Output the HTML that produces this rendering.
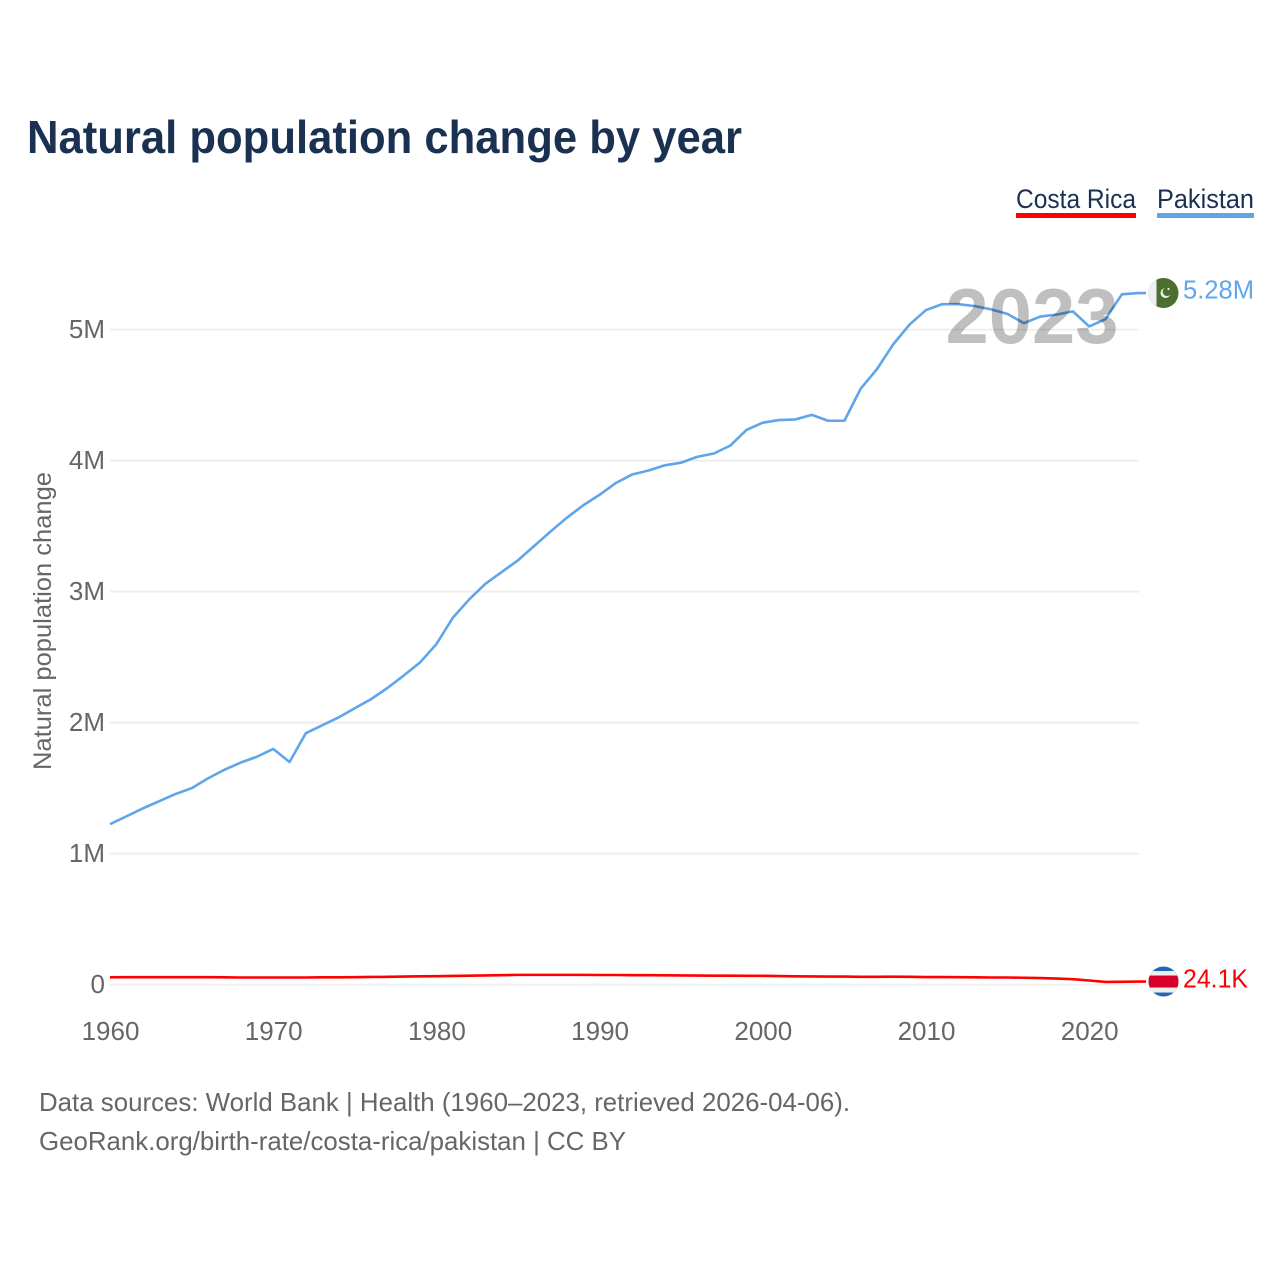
<!DOCTYPE html>
<html lang="en">
<head>
<meta charset="utf-8">
<title>Natural population change by year</title>
<style>
html,body{margin:0;padding:0;background:#fff;width:1280px;height:1280px;overflow:hidden}
svg{display:block}
text{font-family:"Liberation Sans",sans-serif}
</style>
</head>
<body>
<svg id="chart" width="1280" height="1280" viewBox="0 0 1280 1280" xmlns="http://www.w3.org/2000/svg">
  <defs>
    <clipPath id="flag-clip"><circle cx="0" cy="0" r="15"/></clipPath>
  </defs>
  <rect width="1280" height="1280" fill="#fff"/>
  <text x="27" y="153" font-size="46" font-weight="700" fill="#1a3152" textLength="715" lengthAdjust="spacingAndGlyphs">Natural population change by year</text>

  <g>
    <text x="1016" y="208" font-size="27" fill="#1a3152" textLength="120" lengthAdjust="spacingAndGlyphs">Costa Rica</text>
    <rect x="1016" y="213" width="120" height="5" fill="#ff0000"/>
  </g>
  <g>
    <text x="1157" y="208" font-size="27" fill="#1a3152" textLength="97" lengthAdjust="spacingAndGlyphs">Pakistan</text>
    <rect x="1157" y="213" width="97" height="5" fill="#60a5ea"/>
  </g>

  <g id="grid"></g>
  <g id="yticks"></g>
  <g id="xticks"></g>
  <text transform="translate(51,621) rotate(-90)" text-anchor="middle" font-size="25" fill="#666" textLength="298" lengthAdjust="spacingAndGlyphs">Natural population change</text>

  <g id="series"></g>
  <g id="ends"></g>

  <text id="year-watermark" x="1032" y="343" text-anchor="middle" font-size="78" font-weight="700" fill="#000" fill-opacity="0.25" textLength="173" lengthAdjust="spacingAndGlyphs">2023</text>

  <text x="39" y="1111" font-size="26" fill="#666" textLength="811" lengthAdjust="spacingAndGlyphs">Data sources: World Bank | Health (1960–2023, retrieved 2026-04-06).</text>
  <text x="39" y="1150" font-size="26" fill="#666" textLength="587" lengthAdjust="spacingAndGlyphs">GeoRank.org/birth-rate/costa-rica/pakistan | CC BY</text>
</svg>
<script>
const startYear = 1960;
const xTickYears = [1960, 1970, 1980, 1990, 2000, 2010, 2020];
const yTickValues = [0, 1000000, 2000000, 3000000, 4000000, 5000000];
const yTickLabels = ['0', '1M', '2M', '3M', '4M', '5M'];
const pakistanValues = [
  1225000, 1285000, 1345000, 1400000, 1455000, 1500000, 1575000, 1640000, 1695000, 1740000,
  1800000, 1700000, 1920000, 1980000, 2040000, 2110000, 2180000, 2265000, 2360000, 2460000,
  2600000, 2800000, 2940000, 3060000, 3150000, 3240000, 3350000, 3460000, 3565000, 3660000,
  3740000, 3830000, 3895000, 3925000, 3965000, 3985000, 4030000, 4055000, 4115000, 4235000,
  4290000, 4310000, 4315000, 4350000, 4305000, 4305000, 4550000, 4700000, 4890000, 5040000,
  5150000, 5195000, 5195000, 5180000, 5155000, 5120000, 5050000, 5100000, 5115000, 5140000,
  5025000, 5080000, 5270000, 5280000
];
const costaRicaValues = [
  56000, 57000, 57000, 57000, 57000, 57000, 57000, 56000, 55000, 55000,
  55000, 55000, 55000, 56000, 56000, 57000, 59000, 60000, 62000, 64000,
  65000, 67000, 69000, 71000, 73000, 75000, 75000, 75000, 75000, 75000,
  74000, 74000, 73000, 73000, 72000, 71000, 70000, 69000, 69000, 68000,
  68000, 66000, 64000, 63000, 62000, 62000, 60000, 60000, 61000, 60000,
  58000, 58000, 57000, 56000, 55000, 55000, 53000, 51000, 47000, 42000,
  32000, 21000, 22000, 24100
];
const pakistanEndLabel = '5.28M';
const costaRicaEndLabel = '24.1K';

const NS = 'http://www.w3.org/2000/svg';
const plotLeft = 110, yearWidth = 16.32, zeroY = 984.7, pxPerUnit = 131 / 1000000, plotRight = 1139;
function xScale(year) { return plotLeft + (year - startYear) * yearWidth; }
function yScale(v) { return zeroY - v * pxPerUnit; }
function make(tag, parent, attrs) {
  const el = document.createElementNS(NS, tag);
  for (const k in attrs) el.setAttribute(k, attrs[k]);
  parent.appendChild(el);
  return el;
}

const grid = document.getElementById('grid');
const yticks = document.getElementById('yticks');
yTickValues.forEach(function (v, i) {
  const line = make('line', grid, { x1: plotLeft, x2: plotRight, y1: yScale(v), y2: yScale(v), stroke: '#eeeeee', 'stroke-width': 1.8 });
  
  
  const t = make('text', yticks, { x: 105, y: yScale(v) + 8.3, 'text-anchor': 'end', 'font-size': 26, fill: '#666' });
  
  
  t.textContent = yTickLabels[i];
});

const xticks = document.getElementById('xticks');
xTickYears.forEach(function (yr) {
  const t = make('text', xticks, { x: xScale(yr) + 0.5, y: 1040, 'text-anchor': 'middle', 'font-size': 26, fill: '#666' });
  
  
  t.textContent = String(yr);
});

const seriesGroup = document.getElementById('series');
const endsGroup = document.getElementById('ends');
function pathFor(values) {
  return values.map(function (v, i) {
    return (i ? 'L' : 'M') + xScale(startYear + i).toFixed(2) + ' ' + yScale(v).toFixed(2);
  }).join(' ') + ' L 1146 ' + yScale(values[values.length - 1]).toFixed(2);
}

const pakLine = make('path', seriesGroup, { d: pathFor(pakistanValues), fill: 'none', stroke: '#60a5ea', 'stroke-width': 2.6, 'stroke-linejoin': 'round' });


const crLine = make('path', seriesGroup, { d: pathFor(costaRicaValues), fill: 'none', stroke: '#ff0000', 'stroke-width': 2.6, 'stroke-linejoin': 'round' });



/* Pakistan end marker */
const pakY = yScale(pakistanValues[pakistanValues.length - 1]);
const pakFlag = make('g', endsGroup, { transform: 'translate(1163.5,' + pakY.toFixed(2) + ')', 'clip-path': 'url(#flag-clip)' });


make('rect', pakFlag, { x: -15, y: -15, width: 30, height: 30, fill: '#4c6e30' });
make('rect', pakFlag, { x: -15, y: -15, width: 8, height: 30, fill: '#efefef' });
make('circle', pakFlag, { cx: 2, cy: 0, r: 5, fill: '#efefef' });
make('circle', pakFlag, { cx: 3.6, cy: -1.4, r: 4.4, fill: '#4c6e30' });
make('circle', pakFlag, { cx: 5, cy: -4, r: 1.1, fill: '#efefef' });
const pakLabel = make('text', endsGroup, { x: 1183, y: pakY + 5.5, 'font-size': 26, fill: '#60a5ea', textLength: 71, lengthAdjust: 'spacingAndGlyphs' });


pakLabel.textContent = pakistanEndLabel;

/* Costa Rica end marker */
const crY = yScale(costaRicaValues[costaRicaValues.length - 1]);
const crFlag = make('g', endsGroup, { transform: 'translate(1163.5,' + crY.toFixed(2) + ')', 'clip-path': 'url(#flag-clip)' });


make('rect', crFlag, { x: -15, y: -15, width: 30, height: 30, fill: '#2366b5' });
make('rect', crFlag, { x: -15, y: -10.5, width: 30, height: 21.5, fill: '#eeeeee' });
make('rect', crFlag, { x: -15, y: -6, width: 30, height: 12, fill: '#d7002c' });
const crLabel = make('text', endsGroup, { x: 1183, y: crY + 6, 'font-size': 26, fill: '#ff0000', textLength: 65, lengthAdjust: 'spacingAndGlyphs' });


crLabel.textContent = costaRicaEndLabel;
</script>
</body>
</html>
